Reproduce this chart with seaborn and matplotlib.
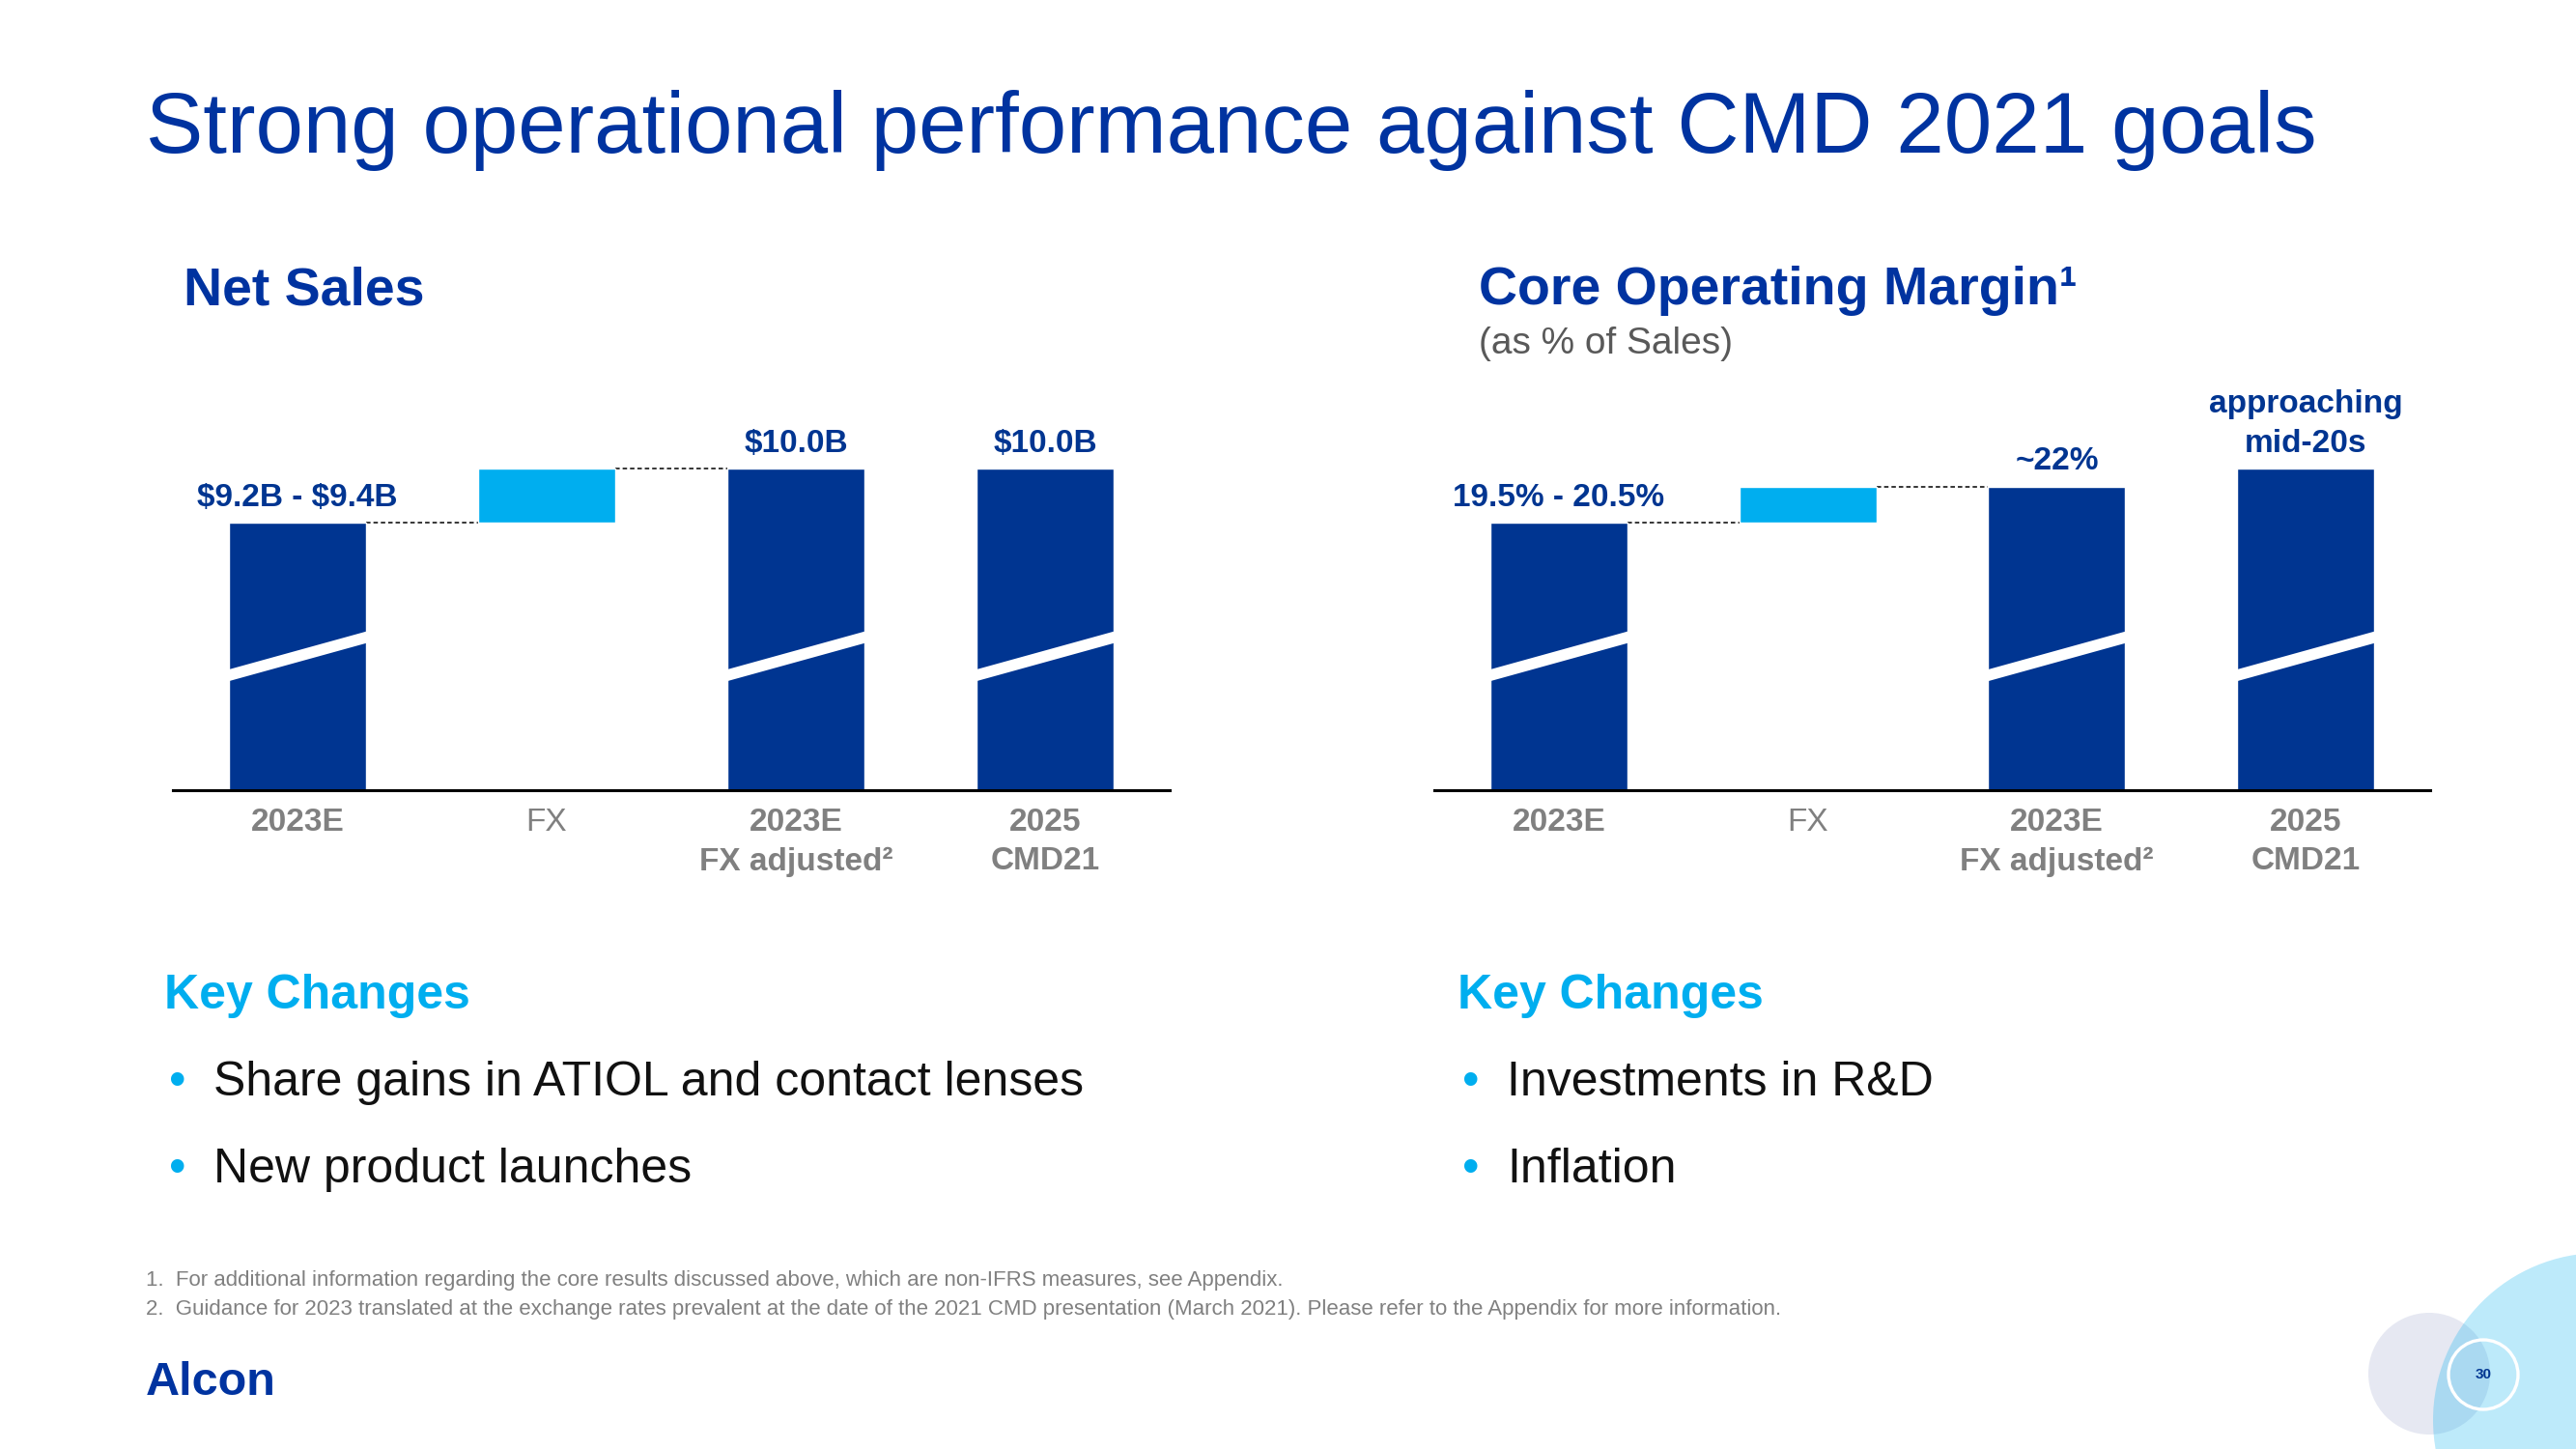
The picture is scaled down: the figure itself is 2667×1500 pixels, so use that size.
import numpy as np
import pandas as pd
import seaborn as sns
import matplotlib.pyplot as plt
from matplotlib.patches import Circle, Polygon
from matplotlib.transforms import blended_transform_factory

sns.set_style('white')
plt.rcParams['font.family'] = ['Liberation Sans', 'DejaVu Sans']

# --- data ---
categories = ['2023E', 'FX', '2023E FX adj', '2025 CMD21']
tick_labels = ['2023E', 'FX', '2023E\nFX adjusted\u00b2', '2025\nCMD21']

sales_values = [9.3, np.nan, 10.0, 10.0]      # $B, bar heights (2023E is midpoint of range)
sales_fx = 0.7                                 # FX step between 2023E and FX adjusted
sales_labels = [r'\$9.2B - \$9.4B', '', r'\$10.0B', r'\$10.0B']

margin_values = [20.0, np.nan, 22.0, 23.0]     # % of sales
margin_fx = 2.0
margin_labels = ['19.5% - 20.5%', '', '~22%', 'approaching\nmid-20s']

DARK = '#003591'
LIGHT = '#00AEEF'
GRAY = '#808080'

W, H = 2667, 1500
fig = plt.figure(figsize=(W / 100, H / 100), dpi=100)
fig.patch.set_facecolor('white')


def fx(px):
    return px / W


def fy(py):
    return 1 - py / H


def draw_chart(left, right, values, fx_step, labels, ylim):
    ax = fig.add_axes([fx(left), fy(818), fx(right - left), 418 / H])
    df = pd.DataFrame({'cat': categories, 'val': values})
    sns.barplot(data=df, x='cat', y='val', order=categories, color=DARK,
                saturation=1, width=0.55, errorbar=None, ax=ax, zorder=2)
    # floating FX bar
    ax.bar(1, fx_step, bottom=values[0], width=0.55, color=LIGHT, zorder=2)
    ax.set_xlim(-0.5, 3.5)
    ax.set_ylim(*ylim)
    # dashed connectors
    ax.plot([0.275, 0.725], [values[0], values[0]], color='black', lw=1.1,
            ls=(0, (3, 2)), zorder=1)
    ax.plot([1.275, 1.725], [values[0] + fx_step] * 2, color='black', lw=1.1,
            ls=(0, (3, 2)), zorder=1)
    # axis break bands
    tr = blended_transform_factory(ax.transData, ax.transAxes)
    for i in [0, 2, 3]:
        x0, x1 = i - 0.29, i + 0.29
        cl, cr, t = 0.282, 0.381, 0.0145
        ax.add_patch(Polygon([(x0, cl - t), (x1, cr - t), (x1, cr + t), (x0, cl + t)],
                             closed=True, facecolor='white', edgecolor='none',
                             transform=tr, zorder=3))
    # value labels (one annotation per line, bottom line first)
    for i, (v, lab) in enumerate(zip(values, labels)):
        if not lab:
            continue
        for k, line in enumerate(reversed(lab.split('\n'))):
            ax.annotate(line, (i, v), xytext=(0, 18.5 + k * 29.5),
                        textcoords='offset points', ha='center', va='center',
                        fontsize=24, fontweight='bold', color=DARK,
                        annotation_clip=False)
    for s in ['top', 'right', 'left']:
        ax.spines[s].set_visible(False)
    ax.spines['bottom'].set_linewidth(2.2)
    ax.spines['bottom'].set_color('black')
    ax.set_yticks([])
    ax.set_xlabel('')
    ax.set_ylabel('')
    ax.set_xticks(range(4))
    ax.set_xticklabels(tick_labels, fontsize=24, color=GRAY, linespacing=1.38,
                       va='top')
    for j, t in enumerate(ax.get_xticklabels()):
        t.set_fontweight('normal' if j == 1 else 'bold')
    ax.tick_params(axis='x', length=0, pad=13)
    ax.set_facecolor('none')
    return ax


draw_chart(179, 1211, sales_values, sales_fx, sales_labels, (5.8375, 11.0625))
draw_chart(1485, 2516, margin_values, margin_fx, margin_labels, (5.23, 27.53))

# --- text ---
fig.text(fx(151), fy(158), 'Strong operational performance against CMD 2021 goals',
         fontsize=64, color='#0033A0', va='baseline')
fig.text(fx(190), fy(315), 'Net Sales', fontsize=40, fontweight='bold',
         color='#0033A0', va='baseline')
fig.text(fx(1531), fy(315), 'Core Operating Margin\u00b9', fontsize=40,
         fontweight='bold', color='#0033A0', va='baseline')
fig.text(fx(1531), fy(366), '(as % of Sales)', fontsize=28, color='#595959',
         va='baseline')

for x0, items in [(170, ['Share gains in ATIOL and contact lenses', 'New product launches']),
                  (1509, ['Investments in R&D', 'Inflation'])]:
    fig.text(fx(x0), fy(1031), 'Key Changes', fontsize=36, fontweight='bold',
             color=LIGHT, va='center')
    for k, item in enumerate(items):
        y = 1121 + k * 90
        fig.text(fx(x0 + 5), fy(y), '\u2022', fontsize=36, color=LIGHT, va='center')
        fig.text(fx(x0 + 51), fy(y), item, fontsize=36, color='#111111', va='center')

fig.text(fx(151), fy(1325),
         '1.  For additional information regarding the core results discussed above, '
         'which are non-IFRS measures, see Appendix.',
         fontsize=16, color=GRAY, va='center')
fig.text(fx(151), fy(1356),
         '2.  Guidance for 2023 translated at the exchange rates prevalent at the date '
         'of the 2021 CMD presentation (March 2021). Please refer to the Appendix for '
         'more information.',
         fontsize=16, color=GRAY, va='center')
fig.text(fx(151), fy(1432), 'Alcon', fontsize=35, fontweight='bold',
         color='#0033A0', va='center')

# --- decorative circles with page number ---
deco = fig.add_axes([0, 0, 1, 1], zorder=-1)
deco.set_xlim(0, W)
deco.set_ylim(H, 0)
deco.axis('off')
deco.add_patch(Circle((2515, 1422), 63, facecolor='#e6e8f2', edgecolor='none'))
deco.add_patch(Circle((2692, 1470), 173, facecolor=LIGHT, alpha=0.26, edgecolor='none'))
deco.add_patch(Circle((2571, 1423), 36, facecolor='none', edgecolor='white', lw=2.4))
deco.text(2571, 1423, '30', fontsize=11, fontweight='bold', color=DARK,
          ha='center', va='center')

fig.savefig('out.png', dpi=100)
